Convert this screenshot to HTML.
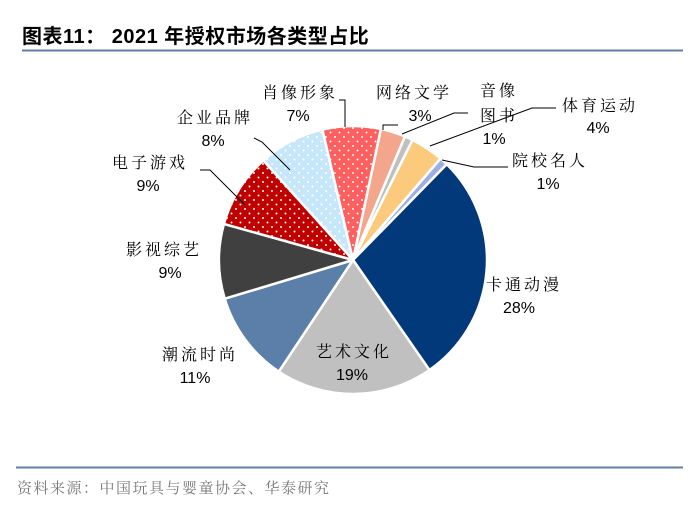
<!DOCTYPE html>
<html><head><meta charset="utf-8"><style>
body{margin:0;background:#fff;width:695px;height:514px;overflow:hidden}
svg{display:block}
text{font-family:"Liberation Sans","Noto Sans CJK SC",sans-serif}
.c{font-family:"Liberation Sans","Noto Serif CJK SC",serif;letter-spacing:3px}
</style></head><body>
<svg id="s" width="695" height="514" viewBox="0 0 695 514">
<defs>
<pattern id="pd1" width="9" height="9" patternUnits="userSpaceOnUse"><rect width="9" height="9" fill="#C00000"/><circle cx="2" cy="2" r="1" fill="#fff"/><circle cx="6.5" cy="6.5" r="1" fill="#fff"/></pattern>
<pattern id="pd2" width="9" height="9" patternUnits="userSpaceOnUse"><rect width="9" height="9" fill="#C6E7F9"/><circle cx="2" cy="2" r="1" fill="#fff"/><circle cx="6.5" cy="6.5" r="1" fill="#fff"/></pattern>
<pattern id="pd3" width="9" height="9" patternUnits="userSpaceOnUse"><rect width="9" height="9" fill="#FF5F5F"/><circle cx="2" cy="2" r="1" fill="#fff"/><circle cx="6.5" cy="6.5" r="1" fill="#fff"/></pattern>
</defs>
<text x="22" y="43" font-size="20" font-weight="bold" fill="#000" style="letter-spacing:0.5px">图表11： 2021 年授权市场各类型占比</text>
<line x1="22" y1="50.5" x2="683" y2="50.5" stroke="#5F7FA6" stroke-width="2"/>
<g id="pie"></g>
<g fill="none" stroke="#000" stroke-width="1">
<polyline points="290,170 262,142 254,138"/>
<polyline points="345,127 345,100 339,100"/>
<polyline points="383,130 383,125 398,125"/>
<polyline points="402,134 454,113 468,113"/>
<polyline points="430,146 532,108 556,108"/>
<polyline points="442,160 474,167 508,167"/>
<polyline points="245,205 210,170 200,170"/>
</g>
<g font-size="16" fill="#000" text-anchor="middle">
<text class="c" x="300" y="98">肖像形象</text><text x="298" y="121">7%</text>
<text class="c" x="215" y="123">企业品牌</text><text x="213" y="146">8%</text>
<text class="c" x="150" y="168">电子游戏</text><text x="148" y="191">9%</text>
<text class="c" x="164" y="255">影视综艺</text><text x="170" y="278">9%</text>
<text class="c" x="200" y="360">潮流时尚</text><text x="195" y="383">11%</text>
<text class="c" x="354" y="357">艺术文化</text><text x="352" y="380">19%</text>
<text class="c" x="524" y="290">卡通动漫</text><text x="519" y="313">28%</text>
<text class="c" x="414" y="98">网络文学</text><text x="420" y="121">3%</text>
<text class="c" x="499" y="96">音像</text><text class="c" x="499" y="121">图书</text><text x="494" y="144">1%</text>
<text class="c" x="600" y="111">体育运动</text><text x="598" y="133">4%</text>
<text class="c" x="550" y="166">院校名人</text><text x="548" y="189">1%</text>
</g>
<line x1="16" y1="467.5" x2="683" y2="467.5" stroke="#5F7FA6" stroke-width="2"/>
<text x="17" y="493" font-size="15" fill="#777" style='font-family:"Noto Serif CJK SC","Liberation Serif",serif;letter-spacing:1.5px'>资料来源：中国玩具与婴童协会、华泰研究</text>
</svg>
<script>
var cx=353,cy=260,r=134,data=[[3,"#F3A68C"],[1,"#BFBFBF"],[4,"#FCCA7C"],[1,"#9DAEE0"],[28,"#02397A"],[19,"#C0C0C0"],[11,"#5B7FA8"],[9,"#404040"],[9,"url(#pd1)"],[8,"url(#pd2)"],[7,"url(#pd3)"]];
var a=12,g=document.getElementById("pie"),h="";
function pt(d){var t=(d-90)*Math.PI/180;return [cx+r*Math.cos(t),cy+r*Math.sin(t)];}
data.forEach(function(d){var b=a+d[0]*3.6,p=pt(a),q=pt(b);
h+='<path d="M'+cx+','+cy+'L'+p[0].toFixed(2)+','+p[1].toFixed(2)+'A'+r+','+r+' 0 '+(b-a>180?1:0)+' 1 '+q[0].toFixed(2)+','+q[1].toFixed(2)+'Z" fill="'+d[1]+'" stroke="#fff" stroke-width="2.5" stroke-linejoin="round"/>';a=b;});
g.innerHTML=h;
</script>
</body></html>
